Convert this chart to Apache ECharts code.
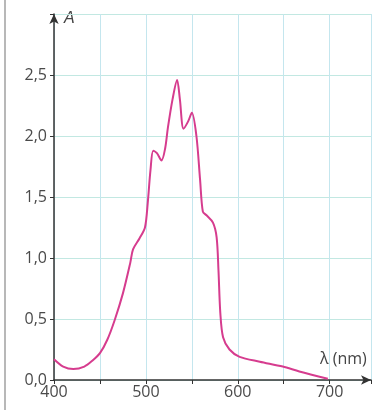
<!DOCTYPE html>
<html>
<head>
<meta charset="utf-8">
<script src="https://cdn.jsdelivr.net/npm/echarts@6/dist/echarts.min.js"></script>
<style>
html,body{margin:0;padding:0;background:#fff;}
#c{width:374px;height:410px;}
</style>
</head>
<body>
<div id="c"></div>
<script>
const wavelength = [400, 410, 421, 433, 442, 450, 458, 466, 475, 483, 486, 493, 499, 502, 505, 508, 512, 517, 521, 524, 529, 534, 537, 541, 546, 550, 555, 559, 562, 566, 573, 577, 579, 581, 584, 591, 602, 624, 649, 667, 698];
const absorbance = [0.17, 0.11, 0.09, 0.11, 0.16, 0.22, 0.33, 0.49, 0.71, 0.96, 1.07, 1.16, 1.25, 1.45, 1.72, 1.88, 1.86, 1.8, 1.9, 2.07, 2.3, 2.46, 2.3, 2.06, 2.12, 2.19, 2.0, 1.64, 1.38, 1.35, 1.29, 1.17, 0.9, 0.55, 0.35, 0.25, 0.19, 0.15, 0.11, 0.07, 0.01];
const xTickLabels = [400, 500, 600, 700];
const yTickLabels = ['0,0', '0,5', '1,0', '1,5', '2,0', '2,5'];

const chart = echarts.init(document.getElementById('c'));
const data = wavelength.map((w, i) => [w, absorbance[i]]);
chart.setOption({
  animation: false,
  grid: {left: 54, top: 14, right: 3, bottom: 30, containLabel: false},
  graphic: [
    {type: 'rect', shape: {x: 4, y: 0, width: 2, height: 410}, style: {fill: '#b8b8b8'}},
    {type: 'text', left: 64, top: 11, style: {text: 'A', font: 'italic 16px "Liberation Sans", Arial', fill: '#444'}},
    {type: 'text', left: 320, top: 351, style: {text: 'λ (nm)', font: '16px "Open Sans", "Liberation Sans"', fill: '#444'}}
  ],
  xAxis: {
    type: 'value', min: 400, max: 745, interval: 50,
    axisLine: {lineStyle: {color: '#333', width: 1.5}, symbol: ['none', 'arrow'], symbolSize: [7, 10]},
    axisTick: {show: true, length: 4, lineStyle: {color: '#333'}},
    axisLabel: {
      color: '#4a4a4a', fontSize: 16, fontWeight: 500, fontFamily: '"Open Sans", "Liberation Sans"', margin: 4,
      formatter: v => xTickLabels.includes(v) ? String(v) : ''
    },
    splitLine: {show: true, lineStyle: {color: '#c4e6ee', width: 1}}
  },
  yAxis: {
    type: 'value', min: 0, max: 3, interval: 0.5,
    axisLine: {show: true, lineStyle: {color: '#333', width: 1.5}, symbol: ['none', 'arrow'], symbolSize: [7, 10]},
    axisTick: {show: true, length: 4, lineStyle: {color: '#333'}},
    axisLabel: {
      color: '#4a4a4a', fontSize: 16, fontWeight: 500, fontFamily: '"Open Sans", "Liberation Sans"', margin: 7,
      formatter: (v) => { const i = Math.round(v / 0.5); return i < yTickLabels.length ? yTickLabels[i] : ''; }
    },
    splitLine: {show: true, lineStyle: {color: '#c2e8e2', width: 1}}
  },
  series: [{
    type: 'line', data: data, smooth: 0.3, showSymbol: false,
    lineStyle: {color: '#d63c8e', width: 2}
  }]
});
</script>
</body>
</html>
